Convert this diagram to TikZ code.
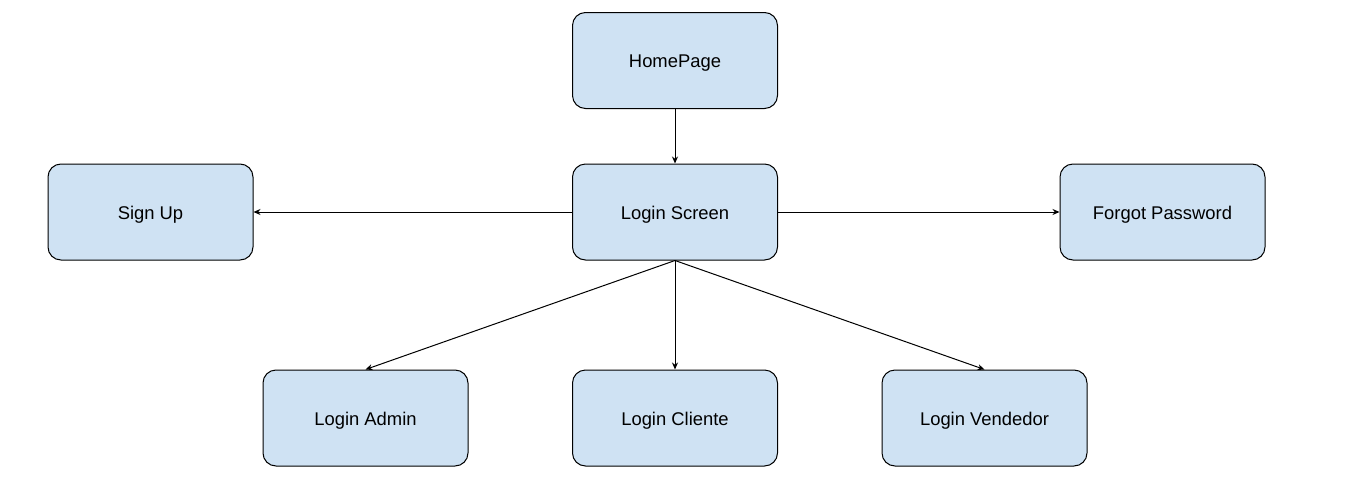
\documentclass[tikz,border=0pt]{standalone}
\usepackage{fontspec}
\setmainfont{Liberation Sans}
\usetikzlibrary{arrows.meta}
\definecolor{boxfill}{HTML}{CFE2F3}
\begin{document}
\begin{tikzpicture}[x=1pt,y=-1pt,
  box/.style={draw=black, line width=1pt, fill=boxfill, rounded corners=13pt,
    minimum width=205pt, minimum height=96pt, inner sep=0pt,
    text height=14pt, text depth=0pt,
    font=\fontsize{18.4pt}{22pt}\selectfont},
  conn/.style={draw=black, line width=1pt, -{Stealth[length=7pt,width=6pt]}}]
\useasboundingbox (0,0) rectangle (1350,498);
\node[box] (home) at (675,60.5) {HomePage};
\node[box] (login) at (675,212) {Login Screen};
\node[box] (signup) at (150.5,212) {Sign Up};
\node[box] (forgot) at (1162.5,212) {Forgot Password};
\node[box] (admin) at (365.5,418) {Login Admin};
\node[box] (cliente) at (675,418) {Login Cliente};
\node[box] (vend) at (984.5,418) {Login Vendedor};
\draw[conn] (home) -- (login);
\draw[conn] (login) -- (signup);
\draw[conn] (login) -- (forgot);
\draw[conn] (login.south) -- (admin.north);
\draw[conn] (login.south) -- (cliente.north);
\draw[conn] (login.south) -- (vend.north);
\end{tikzpicture}
\end{document}
